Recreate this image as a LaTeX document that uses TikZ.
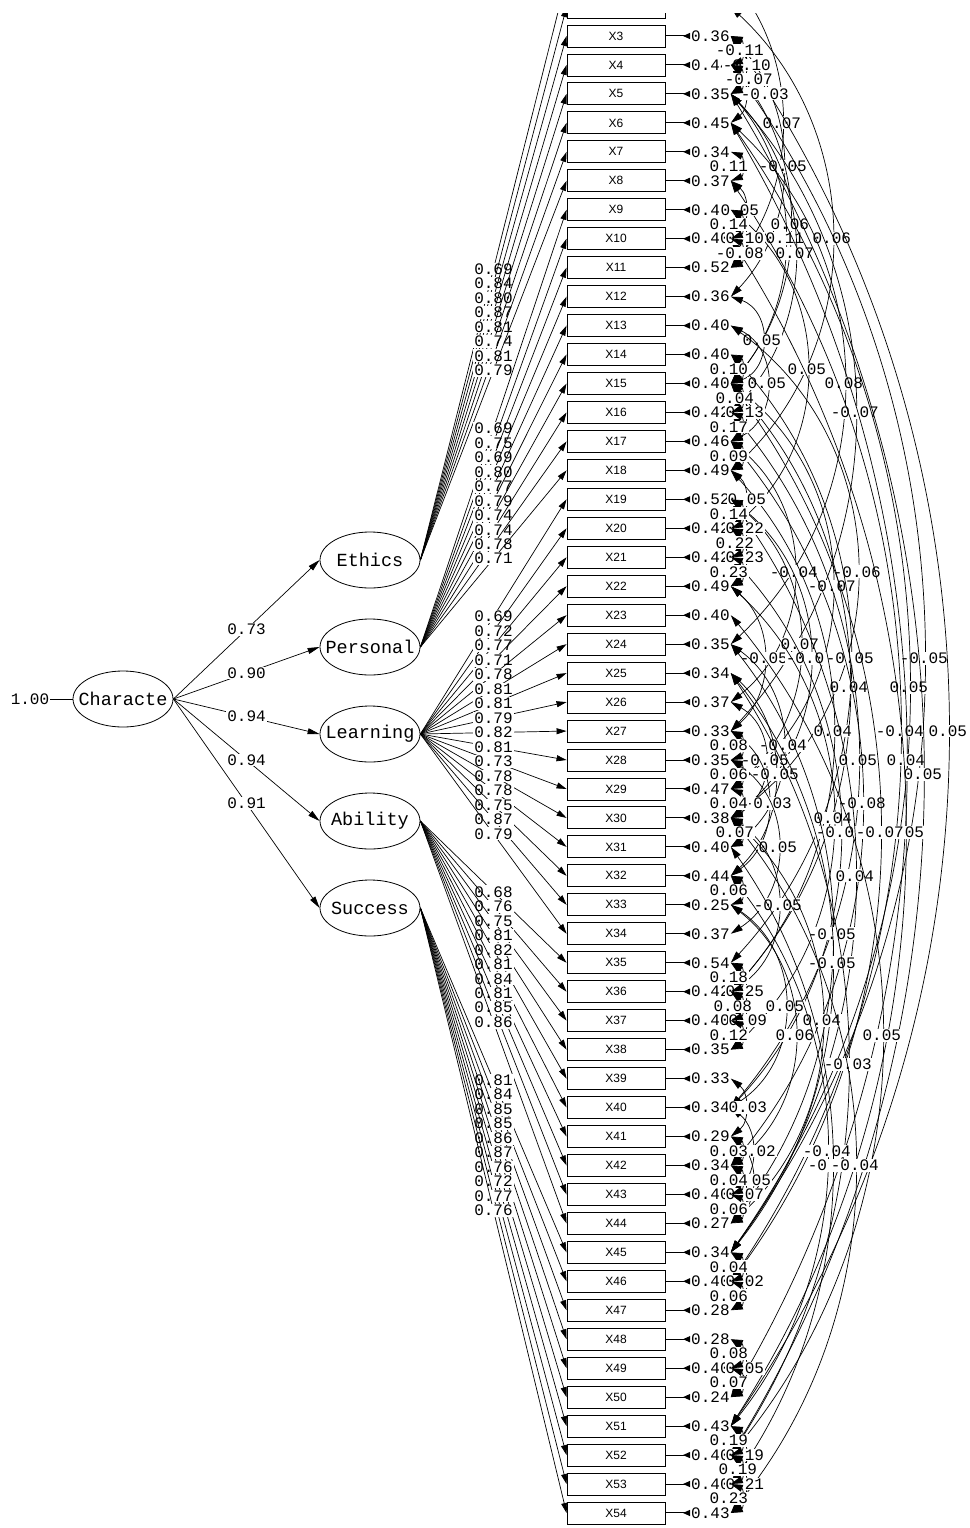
\documentclass[tikz,border=0pt]{standalone}
\usepackage{fontspec}
\usetikzlibrary{shapes.geometric,arrows.meta}
\newfontfamily\lisfont{Liberation Mono}
\newfontfamily\boxfont{Liberation Sans}
\newcommand{\numsize}{\fontsize{16}{16}\selectfont}

\tikzset{
  latent/.style={draw,ellipse,line width=0.8pt,minimum width=100pt,minimum height=56pt,inner sep=0pt,font=\lisfont\fontsize{18.5}{18.5}\selectfont},
  obsbox/.style={draw,rectangle,line width=0.9pt,minimum width=98pt,minimum height=22pt,inner sep=0pt,font=\boxfont\fontsize{12}{12}\selectfont},
  errval/.style={anchor=west,inner sep=1pt,font=\lisfont\numsize},
  coef/.style={fill=white,inner sep=1pt,font=\lisfont\numsize},
  loadarr/.style={line width=0.7pt,-{Triangle[length=10pt,width=6pt]}},
  covarr/.style={line width=0.7pt,{Triangle[length=12pt,width=7pt]}-{Triangle[length=12pt,width=7pt]}},
}

% error covariance: from e#1 to e#2, bulge #3, label #4, shift #5
\newcommand{\covpair}[5]{%
  \pgfmathsetmacro\cvd{(#2-#1)*28.96}%
  \pgfmathsetmacro\cvc{4*#3/3}%
  \pgfmathsetmacro\cvs{\cvd*(1-(2*#3/\cvd)^2)/3}%
  \draw[covarr] (e#1.east) .. controls +(\cvc,\cvs) and +(\cvc,-\cvs) .. (e#2.east) node[midway,coef,xshift=#5]{#4};
}

\begin{document}
\begin{tikzpicture}[x=1pt,y=-1pt]
\useasboundingbox (0,0) rectangle (969,1528);
\clip (0,14) rectangle (969,1528);

% second order factor
\node[latent] (chr) at (123,699) {\makebox[0pt]{Characte}};
\node[inner sep=1pt,font=\lisfont\numsize] (chrv) at (30,699) {1.00};
\draw[line width=0.7pt] (chrv) -- (chr);

\foreach \n/\y/\t in {eth/560/Ethics,per/647/Personal,lea/734/Learning,abi/821/Ability,suc/908/Success}
  \node[latent] (\n) at (370,\y) {\makebox[0pt]{\t}};

\foreach \n/\v in {eth/0.73,per/0.90,lea/0.94,abi/0.94,suc/0.91}
  \draw[line width=0.7pt,-{Triangle[length=12pt,width=6pt]}] (chr.east) -- (\n.west) node[midway,coef]{\v};

% observed variables and error variances
\foreach \i/\v in {1/{\phantom{0.00}},2/{\phantom{0.00}},3/0.36,4/0.44,5/0.35,6/0.45,7/0.34,8/0.37,9/0.40,10/0.40,
  11/0.52,12/0.36,13/0.40,14/0.40,15/0.40,16/0.42,17/0.46,18/0.49,19/0.52,20/0.42,
  21/0.42,22/0.49,23/0.40,24/0.35,25/0.34,26/0.37,27/0.33,28/0.35,29/0.47,30/0.38,
  31/0.40,32/0.44,33/0.25,34/0.37,35/0.54,36/0.42,37/0.40,38/0.35,39/0.33,40/0.34,
  41/0.29,42/0.34,43/0.40,44/0.27,45/0.34,46/0.40,47/0.28,48/0.28,49/0.40,50/0.24,
  51/0.43,52/0.40,53/0.40,54/0.43}{
  \pgfmathsetmacro\yy{36+(\i-3)*28.96}
  \ifnum\i<3
    \node[obsbox] (x\i) at (616,\yy) {};
  \else
    \node[obsbox] (x\i) at (616,\yy) {X\i};
  \fi
  \node[errval] (e\i) at (690,\yy) {\v};
  \draw[line width=1pt,-{Triangle[reversed,length=7pt,width=6pt]}] (x\i.east) -- (e\i.west);
}

% loadings
\foreach \i/\f/\v in {1/eth/0.69,2/eth/0.84,3/eth/0.80,4/eth/0.87,5/eth/0.81,6/eth/0.74,7/eth/0.81,8/eth/0.79,
  9/per/0.69,10/per/0.75,11/per/0.69,12/per/0.80,13/per/0.77,14/per/0.79,15/per/0.74,16/per/0.74,17/per/0.78,18/per/0.71,
  19/lea/0.69,20/lea/0.72,21/lea/0.77,22/lea/0.71,23/lea/0.78,24/lea/0.81,25/lea/0.81,26/lea/0.79,
  27/lea/0.82,28/lea/0.81,29/lea/0.73,30/lea/0.78,31/lea/0.78,32/lea/0.75,33/lea/0.87,34/lea/0.79,
  35/abi/0.68,36/abi/0.76,37/abi/0.75,38/abi/0.81,39/abi/0.82,40/abi/0.81,41/abi/0.84,42/abi/0.81,43/abi/0.85,44/abi/0.86,
  45/suc/0.81,46/suc/0.84,47/suc/0.85,48/suc/0.85,49/suc/0.86,50/suc/0.87,51/suc/0.76,52/suc/0.72,53/suc/0.77,54/suc/0.76}
  \draw[loadarr] (\f.east) -- (x\i.west) node[midway,coef]{\v};

% correlated errors, long ones
\foreach \a/\b/\c/\t/\d in {1/11/51/0.07/0,3/12/52/-0.05/0,4/15/59/0.06/0,5/15/54/0.11/0,2/18/101/0.06/0,
  5/16/64/0.07/0,12/15/31/0.05/0,9/20/76/0.05/0,13/17/36/0.05/0,6/24/113/0.08/0,5/27/124/-0.07/0,
  17/26/63/-0.04/0,13/30/126/-0.06/0,15/29/101/-0.07/0,19/29/69/0.07/0,22/27/33/-0.05/0,19/30/79/-0.05/0,
  14/35/119/-0.05/0,4/45/193/-0.05/0,15/36/118/0.04/0,6/45/178/0.05/0,18/36/102/0.04/0,8/46/169/-0.04/0,
  3/51/217/0.05/0,24/31/52/-0.04/0,26/30/34/-0.05/0,6/50/175/0.04/0,16/40/127/0.05/0,25/32/44/-0.05/0,
  5/52/192/0.05/0,27/32/37/-0.03/0,17/42/131/-0.08/0,22/38/102/0.04/0,21/40/109/-0.05/0,10/51/174/0.05/0,
  15/46/149/-0.07/0,28/34/47/0.05/0,19/45/124/0.04/0,30/36/47/-0.05/0,24/44/101/-0.05/0,25/45/101/-0.05/0,
  33/40/54/0.05/0,30/44/91/0.04/0,33/42/64/0.06/0,23/52/151/0.05/0,25/52/117/-0.03/0,40/43/21/-0.02/0,
  32/51/96/-0.04/0,31/53/101/-0.04/0,30/54/124/-0.04/0,41/44/21/0.05/0}
  {\covpair{\a}{\b}{\c}{\t}{\d}}

% one row apart
\foreach \a/\b/\t/\d in {3/5/-0.10/2,4/6/-0.03/20,8/10/0.05/-5,9/11/0.10/0,15/17/0.13/0,18/20/0.05/2,
  19/21/0.22/0,20/22/0.23/0,35/37/0.25/0,36/38/0.09/3,39/41/0.03/3,42/44/0.07/0,45/47/0.02/0,
  48/50/0.05/0,51/53/0.19/0,52/54/0.21/0}
  {\covpair{\a}{\b}{14}{\t}{\d}}

% neighbours
\foreach \a/\t/\d in {3/-0.11/-1,4/-0.07/8,7/0.11/-12,9/0.14/-12,10/-0.08/-1,14/0.10/-12,15/0.04/-6,
  16/0.17/-12,17/0.09/-12,19/0.14/-12,20/0.22/-6,21/0.23/-12,27/0.08/-12,28/0.06/-12,29/0.04/-12,
  30/0.07/-6,32/0.06/-12,35/0.18/-12,36/0.08/-8,37/0.12/-12,41/0.03/-12,42/0.04/-12,43/0.06/-12,
  45/0.04/-12,46/0.06/-12,48/0.08/-12,49/0.07/-12,51/0.19/-12,52/0.19/-3,53/0.23/-12}{
  \pgfmathtruncatemacro\nb{\a+1}
  \covpair{\a}{\nb}{10}{\t}{\d}
}

\end{tikzpicture}
\end{document}
